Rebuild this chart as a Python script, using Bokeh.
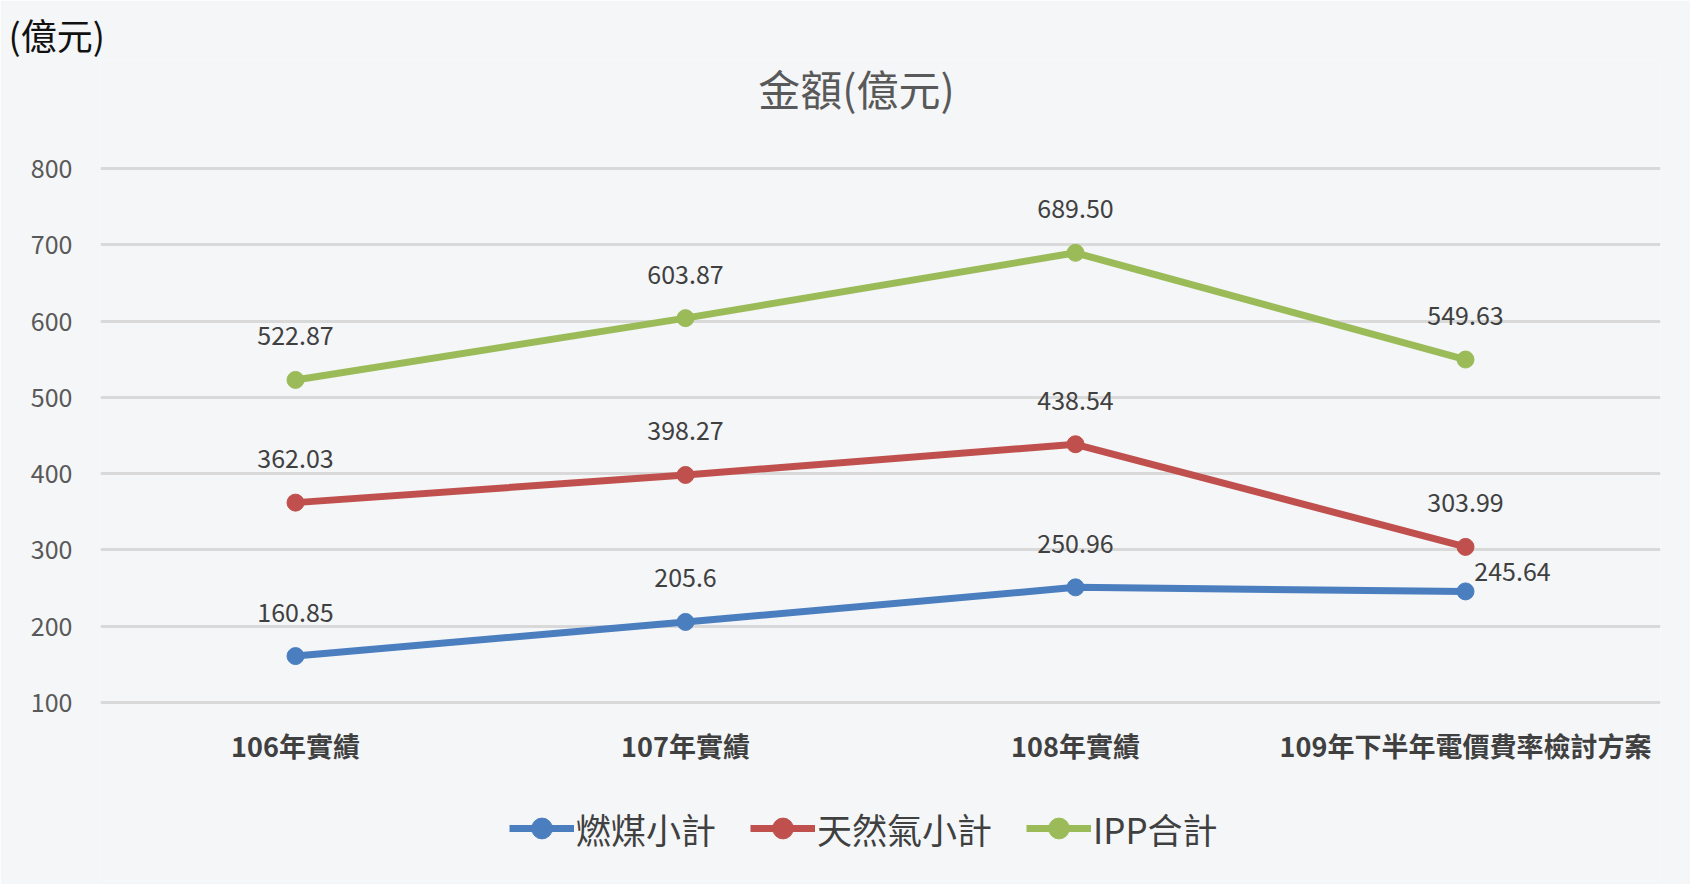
from bokeh.plotting import figure
from bokeh.models import (Range1d, FactorRange, FixedTicker, Legend, LegendItem,
                          ColumnDataSource, Title)
from bokeh.core.properties import value
from bokeh.embed import file_html
from bokeh.resources import INLINE

# ---- data ----
categories = ["106年實績", "107年實績", "108年實績", "109年下半年電價費率檢討方案"]
coal = [160.85, 205.6, 250.96, 245.64]
gas = [362.03, 398.27, 438.54, 303.99]
ipp = [522.87, 603.87, 689.50, 549.63]
coal_labels = ["160.85", "205.6", "250.96", "245.64"]
gas_labels = ["362.03", "398.27", "438.54", "303.99"]
ipp_labels = ["522.87", "603.87", "689.50", "549.63"]
series_names = ["燃煤小計", "天然氣小計", "IPP合計"]
y_ticks = [100, 200, 300, 400, 500, 600, 700, 800]
unit_text = "(億元)"
title_text = "金額(億元)"

FONT = "Noto Sans CJK TC"
BG = "#f4f6f8"
colors = ["#4a7ebf", "#c0504d", "#9bbb59"]
Y_START, Y_END = -133.3, 942.9

# frame spans from just under the unit text down to the legend row
p = figure(x_range=FactorRange(*categories, range_padding=0),
           y_range=Range1d(Y_START, Y_END),
           width=1690, height=884, output_backend="svg", toolbar_location=None,
           min_border_left=100, min_border_right=30,
           min_border_top=59, min_border_bottom=4)
p.x_range.factor_padding = 0
p.background_fill_color = BG
p.border_fill_color = BG
p.outline_line_color = None

# unit text at top-left
t_unit = Title(text=unit_text, align="left", offset=-92, text_font=FONT,
               text_font_size="36px", text_font_style="normal",
               text_color="#111111", standoff=0)
p.add_layout(t_unit, "above")

# chart title (centred above the plot area)
title_src = ColumnDataSource(dict(x=[categories[1]], y=[Y_END], t=[title_text]))
p.text("x", "y", text="t", source=title_src, x_offset=171, y_offset=28,
       text_font=value(FONT), text_font_size="42px", text_color="#595959",
       text_align="center", text_baseline="middle")

# axes
p.yaxis.ticker = FixedTicker(ticks=y_ticks)
p.yaxis.axis_line_color = None
p.yaxis.major_tick_line_color = None
p.yaxis.minor_tick_line_color = None
p.yaxis.major_label_standoff = 22
p.yaxis.major_label_text_font = FONT
p.yaxis.major_label_text_font_size = "25px"
p.yaxis.major_label_text_color = "#595959"

p.xaxis.visible = False

p.xgrid.grid_line_color = None
p.ygrid.grid_line_color = "#d9d9d9"
p.ygrid.grid_line_width = 3

# category labels under the baseline gridline
cat_src = ColumnDataSource(dict(x=categories, y=[y_ticks[0]] * len(categories),
                                t=categories))
p.text("x", "y", text="t", source=cat_src, y_offset=43,
       text_font=value(FONT), text_font_size="27px", text_font_style="bold",
       text_color="#404040", text_align="center", text_baseline="middle")

series = [coal, gas, ipp]
label_sets = [coal_labels, gas_labels, ipp_labels]
items = []
for i, (vals, labs) in enumerate(zip(series, label_sets)):
    xo = [0, 0, 0, 0]
    yo = [-44, -44, -44, -44]
    if i == 0:
        xo[3] = 47
        yo[3] = -20
    src = ColumnDataSource(dict(x=categories, y=vals, t=labs, xo=xo, yo=yo))
    ln = p.line("x", "y", source=src, line_color=colors[i], line_width=7)
    sc = p.scatter("x", "y", source=src, size=17, fill_color=colors[i],
                   line_color=colors[i])
    p.text("x", "y", text="t", source=src, x_offset="xo", y_offset="yo",
           text_font=value(FONT), text_font_size="25px", text_color="#404040",
           text_align="center", text_baseline="middle")
    items.append(LegendItem(label=series_names[i], renderers=[ln, sc]))

legend = Legend(items=items, orientation="horizontal", location=(409, 26),
                glyph_width=65, glyph_height=52, label_height=52,
                label_standoff=2, spacing=34, padding=0, margin=0,
                label_text_font=FONT, label_text_font_size="35px",
                label_text_color="#404040",
                border_line_color=None, background_fill_alpha=0)
p.add_layout(legend, "center")

open("out.html", "w").write(file_html(p, INLINE))
